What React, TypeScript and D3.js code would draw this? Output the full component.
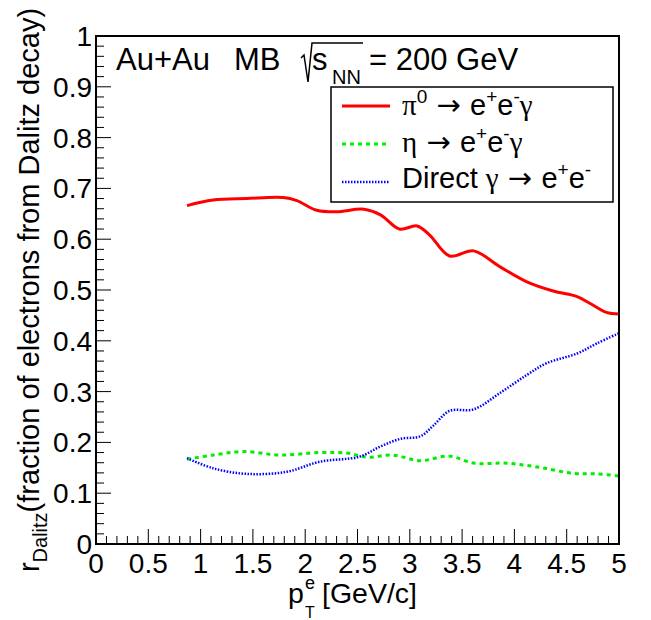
import React from "react";
import * as d3 from "d3";

const piX = [0.87, 1.12, 1.44, 1.79, 1.92, 2.11, 2.30, 2.56, 2.72, 2.90, 3.07, 3.19, 3.38, 3.61, 3.86, 4.12, 4.37, 4.60, 4.72, 4.88, 5.0];
const piY = [0.666, 0.677, 0.680, 0.682, 0.676, 0.657, 0.654, 0.659, 0.648, 0.620, 0.626, 0.608, 0.567, 0.577, 0.546, 0.516, 0.498, 0.487, 0.474, 0.456, 0.453];

const etaX = [0.87, 1.12, 1.41, 1.76, 2.14, 2.40, 2.59, 2.84, 3.10, 3.37, 3.62, 3.93, 4.24, 4.56, 4.79, 5.0];
const etaY = [0.167, 0.175, 0.182, 0.175, 0.180, 0.179, 0.171, 0.175, 0.164, 0.173, 0.159, 0.159, 0.151, 0.139, 0.138, 0.134];

const dirX = [0.87, 1.12, 1.44, 1.82, 2.14, 2.52, 2.72, 2.91, 3.10, 3.22, 3.38, 3.61, 3.86, 4.12, 4.31, 4.60, 4.79, 5.0];
const dirY = [0.169, 0.149, 0.138, 0.142, 0.162, 0.172, 0.192, 0.207, 0.212, 0.232, 0.262, 0.265, 0.297, 0.333, 0.356, 0.375, 0.395, 0.415];

const xTickLabels = ["0", "0.5", "1", "1.5", "2", "2.5", "3", "3.5", "4", "4.5", "5"];
const yTickLabels = ["0", "0.1", "0.2", "0.3", "0.4", "0.5", "0.6", "0.7", "0.8", "0.9", "1"];

const W = 651, H = 620;
const L = 96, R = 619, T = 36, B = 544;
const FONT = "'Liberation Sans', Arial, Helvetica, sans-serif";
const GREEK = "'Liberation Serif', 'DejaVu Serif', serif";
const ARROW = "'DejaVu Sans', sans-serif";

export default function App() {
  const x = d3.scaleLinear().domain([0, 5]).range([L, R]);
  const y = d3.scaleLinear().domain([0, 1]).range([B, T]);
  const line = d3
    .line<[number, number]>()
    .x((d) => x(d[0]))
    .y((d) => y(d[1]))
    .curve(d3.curveCatmullRom.alpha(0.5));

  const series = [
    { xs: piX, ys: piY, color: "#ff0000", width: 3, dash: undefined as string | undefined },
    { xs: etaX, ys: etaY, color: "#00ee00", width: 3, dash: "4 4" },
    { xs: dirX, ys: dirY, color: "#0000ff", width: 2.5, dash: "1.5 1.5" },
  ];

  const xMinor = d3.range(0, 51).map((i) => i / 10);
  const yMinor = d3.range(0, 51).map((i) => i / 50);
  const S = 19, UP = 12;

  return (
    <svg
      width={W}
      height={H}
      style={{ position: "absolute", left: 0, top: 0, background: "#fff" }}
      fontFamily={FONT}
    >
      <rect x={0} y={0} width={W} height={H} fill="#fff" />
      {series.map((s, i) => (
        <path
          key={i}
          d={line(s.xs.map((v, j) => [v, s.ys[j]] as [number, number])) || ""}
          fill="none"
          stroke={s.color}
          strokeWidth={s.width}
          strokeDasharray={s.dash}
        />
      ))}
      <rect x={L} y={T} width={R - L} height={B - T} fill="none" stroke="#000" strokeWidth={2} />
      {xMinor.map((v, i) => (
        <line key={"xm" + i} x1={x(v)} x2={x(v)} y1={B} y2={B - (i % 5 === 0 ? 15 : 8)} stroke="#000" strokeWidth={1} />
      ))}
      {yMinor.map((v, i) => (
        <line key={"ym" + i} y1={y(v)} y2={y(v)} x1={L} x2={L + (i % 5 === 0 ? 15 : 8)} stroke="#000" strokeWidth={1} />
      ))}
      {xTickLabels.map((t, i) => (
        <text key={"xl" + i} x={x(i * 0.5)} y={573} fontSize={28} textAnchor="middle" fill="#000">{t}</text>
      ))}
      {yTickLabels.map((t, i) => (
        <text key={"yl" + i} x={92} y={y(i * 0.1) + 10} fontSize={28} textAnchor="end" fill="#000">{t}</text>
      ))}
      {/* x title */}
      <text x={288} y={603} fontSize={28.5} fill="#000">p</text>
      <text x={305} y={589} fontSize={18} fill="#000">e</text>
      <text x={305} y={618} fontSize={16} fill="#000">T</text>
      <text x={322} y={603} fontSize={28.5} fill="#000">[GeV/c]</text>
      {/* y title */}
      <text transform={`translate(39,${(T + B) / 2}) rotate(-90)`} fontSize={29} textAnchor="middle" fill="#000">
        <tspan>r</tspan>
        <tspan fontSize={20} dy={8}>Dalitz</tspan>
        <tspan dy={-8}>(fraction of electrons from Dalitz decay)</tspan>
      </text>
      {/* title */}
      <text x={116} y={70} fontSize={31} fill="#000">Au+Au</text>
      <text x={234} y={70} fontSize={31} fill="#000">MB</text>
      <path d="M301,58 L304,55 L308,82 L312,43 L363,43" fill="none" stroke="#000" strokeWidth={1.5} />
      <text x={312} y={70} fontSize={31} fill="#000">s</text>
      <text x={332} y={84} fontSize={20} fill="#000">NN</text>
      <text x={369} y={70} fontSize={31} fill="#000">= 200 GeV</text>
      {/* legend */}
      <rect x={331} y={87} width={613 - 331} height={202 - 87} fill="#fff" stroke="#000" strokeWidth={1.5} />
      {series.map((s, i) => (
        <line key={"lg" + i} x1={342} x2={390} y1={106 + i * 38} y2={106 + i * 38} stroke={s.color} strokeWidth={s.width} strokeDasharray={s.dash} />
      ))}
      <text x={402} y={115} fontSize={29} fill="#000">
        <tspan fontFamily={GREEK}>π</tspan>
        <tspan fontSize={S} dy={-UP}>0</tspan>
        <tspan fontFamily={ARROW} dy={UP}> → </tspan>
        <tspan>e</tspan>
        <tspan fontSize={S} dy={-UP}>+</tspan>
        <tspan dy={UP}>e</tspan>
        <tspan fontSize={S} dy={-UP}>-</tspan>
        <tspan fontFamily={GREEK} dy={UP}>γ</tspan>
      </text>
      <text x={402} y={152} fontSize={29} fill="#000">
        <tspan fontFamily={GREEK}>η</tspan>
        <tspan fontFamily={ARROW}> → </tspan>
        <tspan>e</tspan>
        <tspan fontSize={S} dy={-UP}>+</tspan>
        <tspan dy={UP}>e</tspan>
        <tspan fontSize={S} dy={-UP}>-</tspan>
        <tspan fontFamily={GREEK} dy={UP}>γ</tspan>
      </text>
      <text x={402} y={188} fontSize={29} fill="#000">
        <tspan>Direct </tspan>
        <tspan fontFamily={GREEK}>γ</tspan>
        <tspan fontFamily={ARROW}> → </tspan>
        <tspan>e</tspan>
        <tspan fontSize={S} dy={-UP}>+</tspan>
        <tspan dy={UP}>e</tspan>
        <tspan fontSize={S} dy={-UP}>-</tspan>
      </text>
    </svg>
  );
}
